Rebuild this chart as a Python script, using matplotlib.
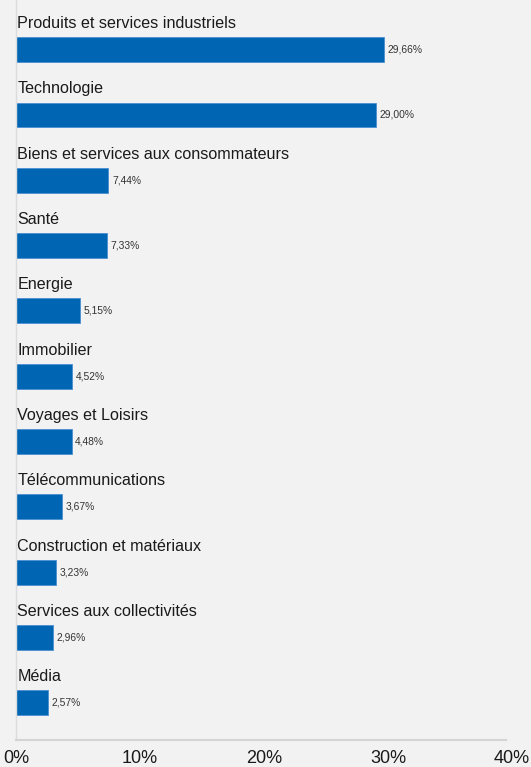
import matplotlib
matplotlib.use("Agg")
import matplotlib.pyplot as plt

plt.rcParams['font.family'] = ['Liberation Sans', 'DejaVu Sans']

sectors = ["Produits et services industriels", "Technologie",
           "Biens et services aux consommateurs", "Santé", "Energie",
           "Immobilier", "Voyages et Loisirs", "Télécommunications",
           "Construction et matériaux", "Services aux collectivités", "Média"]
weights = [29.66, 29.00, 7.44, 7.33, 5.15, 4.52, 4.48, 3.67, 3.23, 2.96, 2.57]
ticks = [0, 10, 20, 30, 40]

bg = '#f2f2f2'
fig = plt.figure(figsize=(5.31, 7.67), dpi=100, facecolor=bg)
ax = fig.add_axes([16/531, 27/767, 496/531, 740/767], facecolor=bg)

pos = list(range(len(sectors)))
ax.barh(pos, weights, height=0.38, color='#0066b3', edgecolor='#4a8fd0', linewidth=0.6)

for i, (name, w) in enumerate(zip(sectors, weights)):
    ax.text(0.1, i - 0.40, name, va='center', ha='left', fontsize=11.6, color='#1a1a1a')
    ax.text(w + 0.3, i, f"{w:.2f}%".replace('.', ','), va='center', ha='left',
            fontsize=7.4, color='#333333')

ax.set_xlim(0, 40)
ax.set_ylim(10.57, -0.76)
ax.set_xticks(ticks)
ax.set_xticklabels([f"{t}%" for t in ticks], fontsize=13, color='#1a1a1a')
ax.tick_params(axis='x', length=0, pad=7)
ax.set_yticks([])
for s in ['top', 'right']:
    ax.spines[s].set_visible(False)
ax.spines['bottom'].set_color('#d4d4d4')
ax.spines['bottom'].set_linewidth(1.5)
ax.spines['bottom'].set_bounds(0, 39.5)
ax.spines['left'].set_color('#dcdcdc')
ax.spines['left'].set_linewidth(1.0)

fig.savefig('out.png', dpi=100, facecolor=bg)
